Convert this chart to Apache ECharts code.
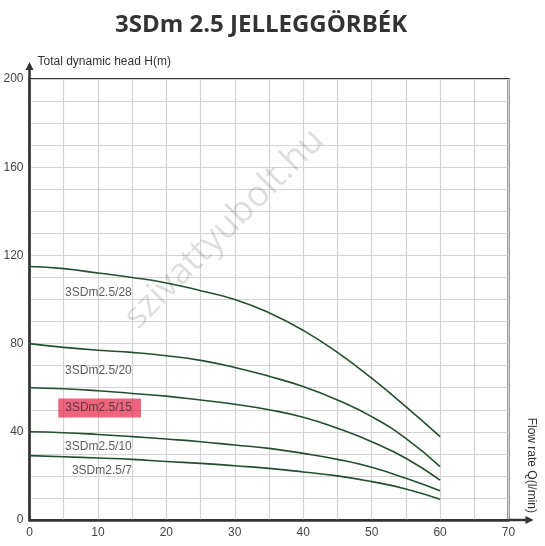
<!DOCTYPE html>
<html>
<head>
<meta charset="utf-8">
<script src="https://cdn.jsdelivr.net/npm/echarts@6/dist/echarts.min.js"></script>
<style>
  html, body { margin: 0; padding: 0; background: #fff; }
  #main { width: 545px; height: 546px; }
</style>
</head>
<body>
<div id="main"></div>
<script>
// flow rate Q (l/min)
var flow = [0, 5, 10, 15, 20, 25, 30, 35, 40, 45, 50, 55, 60];
// head H (m) for each pump
var head28 = [115, 114, 112, 110, 107.5, 104, 100, 94, 86, 76, 64.3, 51.4, 37.8];
var head20 = [80, 78.3, 77, 76, 74.5, 72.4, 69.2, 65.2, 60.5, 54.4, 46.9, 37, 24.2];
var head15 = [60, 59.5, 58.6, 57.4, 56.2, 54.4, 52.5, 50, 46.6, 41.6, 35.5, 28, 18.1];
var head10 = [40, 39.6, 38.8, 37.8, 36.7, 35.5, 34, 32.5, 30.2, 27.5, 23.9, 18.9, 13.3];
var head7 = [29.2, 28.7, 28.1, 27.5, 26.5, 25.7, 24.6, 23.4, 21.8, 20, 17.4, 14.1, 9.4];

var pumpNames = ['3SDm2.5/28', '3SDm2.5/20', '3SDm2.5/15', '3SDm2.5/10', '3SDm2.5/7'];
var pumpHeads = [head28, head20, head15, head10, head7];
// where the curve names sit (data coords)
var tagQ = [5.2, 5.2, 4.2, 5.2, 6.2];
var tagH = [103, 67.7, 50.8, 33.2, 22.4];

var chart = echarts.init(document.getElementById('main'));

var series = [];
for (var i = 0; i < pumpNames.length; i++) {
    var pts = [];
    for (var j = 0; j < flow.length; j++) {
        pts.push([flow[j], pumpHeads[i][j]]);
    }
    series.push({
        name: pumpNames[i],
        type: 'line',
        data: pts,
        smooth: true,
        showSymbol: false,
        silent: true,
        lineStyle: { color: '#22502e', width: 1.6 }
    });
}

var tags = [];
for (var k = 0; k < pumpNames.length; k++) {
    var item = { name: pumpNames[k], value: [tagQ[k], tagH[k]] };
    if (k == 2) {
        //高亮的那一条
        item.label = {
            backgroundColor: 'rgba(232,40,75,0.9)',
            padding: [4, 9, 3, 7]
        };
    }
    tags.push(item);
}
series.push({
    type: 'scatter',
    data: tags,
    symbolSize: 0,
    silent: true,
    label: {
        show: true,
        position: 'right',
        distance: 0,
        formatter: function (p) { return p.name; },
        color: '#333',
        fontSize: 12,
        fontFamily: 'Liberation Sans'
    }
});

var option = {
    backgroundColor: '#fff',
    animation: false,
    title: {
        text: '3SDm 2.5 JELLEGGÖRBÉK',
        left: 110,
        top: 8,
        textStyle: {
            fontFamily: 'Open Sans',
            fontWeight: 'bold',
            fontSize: 24,
            color: '#333'
        }
    },
    grid: {
        left: 29.5,
        right: 36.5,
        top: 79,
        bottom: 26,
        show: true,
        borderColor: '#333',
        borderWidth: 2,
        containLabel: false
    },
    xAxis: {
        type: 'value',
        min: 0,
        max: 70,
        interval: 5,
        axisLine: { show: true, lineStyle: { color: '#333', width: 2.5 } },
        axisTick: { show: false },
        axisLabel: {
            margin: 7,
            color: '#444',
            fontSize: 12,
            fontFamily: 'Liberation Sans',
            formatter: function (v) { return v % 10 === 0 ? v : ''; }
        },
        splitLine: { show: true, lineStyle: { color: '#d4d4d4', width: 1.2 } }
    },
    yAxis: {
        type: 'value',
        min: 0,
        max: 200,
        interval: 10,
        name: 'Total dynamic head H(m)',
        nameLocation: 'end',
        nameGap: 17,
        nameTextStyle: {
            align: 'left',
            verticalAlign: 'middle',
            padding: [0, 0, 0, 8],
            color: '#333',
            fontSize: 12,
            fontFamily: 'Liberation Sans'
        },
        axisLine: { show: true, lineStyle: { color: '#333', width: 2.5 } },
        axisTick: { show: false },
        axisLabel: {
            margin: 6,
            color: '#444',
            fontSize: 12,
            fontFamily: 'Liberation Sans',
            formatter: function (v) { return v % 40 === 0 ? v : ''; }
        },
        splitLine: { show: true, lineStyle: { color: '#d4d4d4', width: 1.2 } }
    },
    series: series
};

chart.setOption(option);

// arrows, watermark, x axis title
var pOrigin = chart.convertToPixel({ gridIndex: 0 }, [0, 0]);
var pTop = chart.convertToPixel({ gridIndex: 0 }, [0, 200]);
var pRight = chart.convertToPixel({ gridIndex: 0 }, [70, 0]);
var pMark = chart.convertToPixel({ gridIndex: 0 }, [28.5, 132]);

chart.setOption({
    graphic: [
        {
            type: 'text',
            x: pMark[0], y: pMark[1],
            rotation: Math.PI / 4,
            z: 0,
            silent: true,
            style: {
                text: 'szivattyubolt.hu',
                fontFamily: 'Open Sans',
                fontSize: 36,
                fill: 'rgba(0,0,0,0.13)',
                align: 'center',
                verticalAlign: 'middle'
            }
        },
        {
            type: 'line',
            shape: { x1: pTop[0], y1: pTop[1], x2: pTop[0], y2: pTop[1] - 11 },
            style: { stroke: '#333', lineWidth: 2.5 }
        },
        {
            type: 'polygon',
            shape: { points: [[pTop[0], pTop[1] - 17], [pTop[0] - 4, pTop[1] - 9], [pTop[0] + 4, pTop[1] - 9]] },
            style: { fill: '#333' }
        },
        {
            type: 'line',
            shape: { x1: pRight[0], y1: pRight[1], x2: pRight[0] + 19, y2: pRight[1] },
            style: { stroke: '#333', lineWidth: 2.5 }
        },
        {
            type: 'polygon',
            shape: { points: [[pRight[0] + 25, pRight[1]], [pRight[0] + 17, pRight[1] - 4], [pRight[0] + 17, pRight[1] + 4]] },
            style: { fill: '#333' }
        },
        {
            type: 'text',
            x: pRight[0] + 22.5, y: pOrigin[1] - 7,
            rotation: -Math.PI / 2,
            style: {
                text: 'Flow rate Q(l/min)',
                fontFamily: 'Liberation Sans',
                fontSize: 12,
                fill: '#333',
                align: 'right',
                verticalAlign: 'middle'
            }
        }
    ]
});
</script>
</body>
</html>
